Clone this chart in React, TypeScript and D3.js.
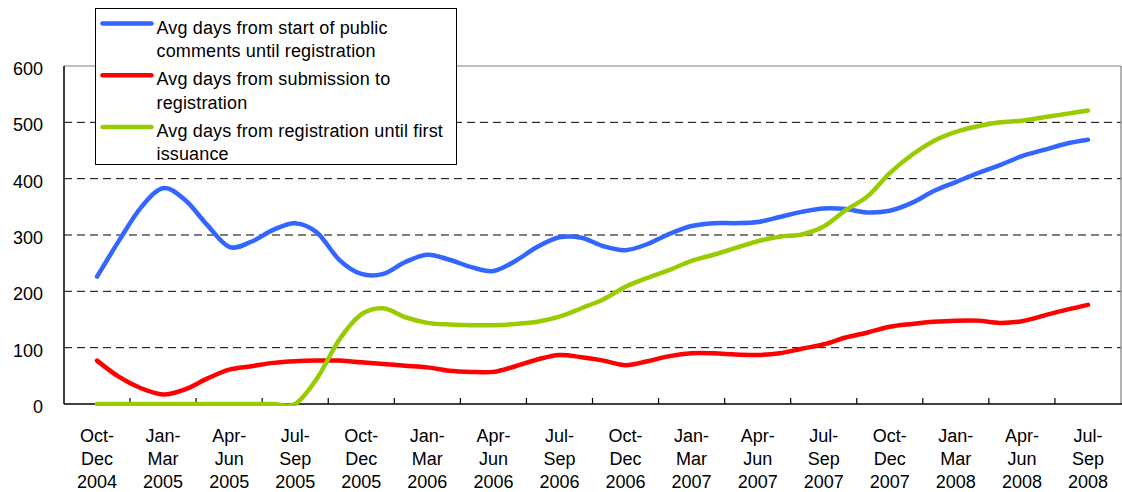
import * as d3 from 'd3';
import React from 'react';

// quarter categories (3 text rows each)
const quarterLabels: string[][] = [
  ['Oct-', 'Dec', '2004'], ['Jan-', 'Mar', '2005'], ['Apr-', 'Jun', '2005'], ['Jul-', 'Sep', '2005'],
  ['Oct-', 'Dec', '2005'], ['Jan-', 'Mar', '2006'], ['Apr-', 'Jun', '2006'], ['Jul-', 'Sep', '2006'],
  ['Oct-', 'Dec', '2006'], ['Jan-', 'Mar', '2007'], ['Apr-', 'Jun', '2007'], ['Jul-', 'Sep', '2007'],
  ['Oct-', 'Dec', '2007'], ['Jan-', 'Mar', '2008'], ['Apr-', 'Jun', '2008'], ['Jul-', 'Sep', '2008'],
];

const yTicks = [0, 100, 200, 300, 400, 500, 600];

// monthly values (3-month averages), Nov 2004 .. Aug 2008
const publicComments = [
  226, 290, 349, 383, 362, 318, 279, 288, 309, 321, 304, 256, 231, 231, 252, 265,
  256, 243, 236, 254, 279, 296, 295, 280, 273, 284, 302, 316, 321, 321, 323, 332,
  341, 347, 346, 340, 343, 357, 378, 394, 410, 424, 440, 451, 462, 469,
];
const submission = [
  77, 48, 28, 17, 26, 45, 61, 67, 73, 76, 77, 77, 74, 71, 68, 65,
  59, 57, 57, 67, 79, 87, 83, 77, 69, 76, 85, 90, 90, 88, 87, 90,
  98, 106, 118, 127, 137, 142, 146, 148, 148, 144, 147, 157, 167, 176,
];
const firstIssuance = [
  0, 0, 0, 0, 0, 0, 0, 0, 0, 0, 46, 114, 159, 170, 154, 144,
  141, 140, 140, 142, 146, 155, 170, 186, 208, 224, 238, 254, 265, 277, 289, 297,
  301, 315, 344, 369, 410, 442, 467, 483, 493, 500, 503, 509, 515, 521,
];

const seriesNames = [
  ['Avg days from start of public', 'comments until registration'],
  ['Avg days from submission to', 'registration'],
  ['Avg days from registration until first', 'issuance'],
];
const seriesColors = ['#3366ff', '#ff0000', '#99cc00'];
const seriesData = [publicComments, submission, firstIssuance];

const W = 1122;
const H = 492;
const font = '"Liberation Sans", Arial, sans-serif';

const App: React.FC = () => {
  const keys = quarterLabels.map(q => q.join(' '));
  const x = d3.scaleBand<string>().domain(keys).range([64, 1121]);
  const y = d3.scaleLinear().domain([0, 600]).range([404, 66]);
  const step = x.bandwidth() / 3;
  const start = x(keys[0])! + x.bandwidth() / 2;

  const line = d3.line<number>()
    .x((_, i) => start + i * step)
    .y(d => y(d))
    .curve(d3.curveCatmullRom.alpha(0));

  const [x1, x2] = x.range();
  const [yb, yt] = y.range();

  return (
    <svg width={W} height={H} style={{ position: 'absolute', left: 0, top: 0, background: '#fff' }}>
      <defs>
        <clipPath id="plot">
          <rect x={x1} y={yt - 4} width={x2 - x1} height={yb - yt + 6} />
        </clipPath>
      </defs>

      {/* grid */}
      {yTicks.filter(t => t > 0 && t < 600).map(t => (
        <line key={t} x1={x1} x2={x2} y1={y(t)} y2={y(t)} stroke="#000" strokeWidth={1} strokeDasharray="8,5" />
      ))}

      {/* frame */}
      <line x1={x1} x2={x2} y1={yt} y2={yt} stroke="#808080" strokeWidth={1.2} />
      <line x1={x2} x2={x2} y1={yt} y2={yb} stroke="#808080" strokeWidth={1.2} />
      <line x1={x1} x2={x1} y1={yt} y2={yb} stroke="#000" strokeWidth={1.5} />
      <line x1={x1} x2={W} y1={yb} y2={yb} stroke="#000" strokeWidth={1.5} />
      {keys.slice(1).map(k => (
        <line key={k} x1={x(k)!} x2={x(k)!} y1={yb - 6} y2={yb} stroke="#000" strokeWidth={1.2} />
      ))}

      {/* y labels */}
      {yTicks.map(t => (
        <text key={t} x={43} y={y(t) + 9} textAnchor="end" fontFamily={font} fontSize={18} fill="#000">{t}</text>
      ))}

      {/* x labels */}
      {quarterLabels.map((q, i) => (
        <text key={keys[i]} textAnchor="middle" fontFamily={font} fontSize={18} fill="#000">
          {q.map((s, j) => (
            <tspan key={j} x={x(keys[i])! + x.bandwidth() / 2} y={442 + j * 23}>{s}</tspan>
          ))}
        </text>
      ))}

      {/* series */}
      <g clipPath="url(#plot)">
        {seriesData.map((d, i) => (
          <path key={i} d={line(d) || ''} fill="none" stroke={seriesColors[i]} strokeWidth={4.5}
            strokeLinecap="round" strokeLinejoin="round" />
        ))}
      </g>

      {/* legend */}
      <g transform="translate(95.5,8.5)">
        <rect width={361} height={156} fill="#fff" stroke="#000" strokeWidth={1} />
        {seriesNames.map((names, i) => (
          <g key={i} transform={`translate(0,${25 + i * 51.7})`}>
            <line x1={7} x2={56} y1={-10} y2={-10} stroke={seriesColors[i]} strokeWidth={4.5} strokeLinecap="round" />
            <text fontFamily={font} fontSize={18} fill="#000" letterSpacing={0.15}>
              {names.map((s, j) => (
                <tspan key={j} x={61} y={j * 23.5}>{s}</tspan>
              ))}
            </text>
          </g>
        ))}
      </g>
    </svg>
  );
};

export default App;
